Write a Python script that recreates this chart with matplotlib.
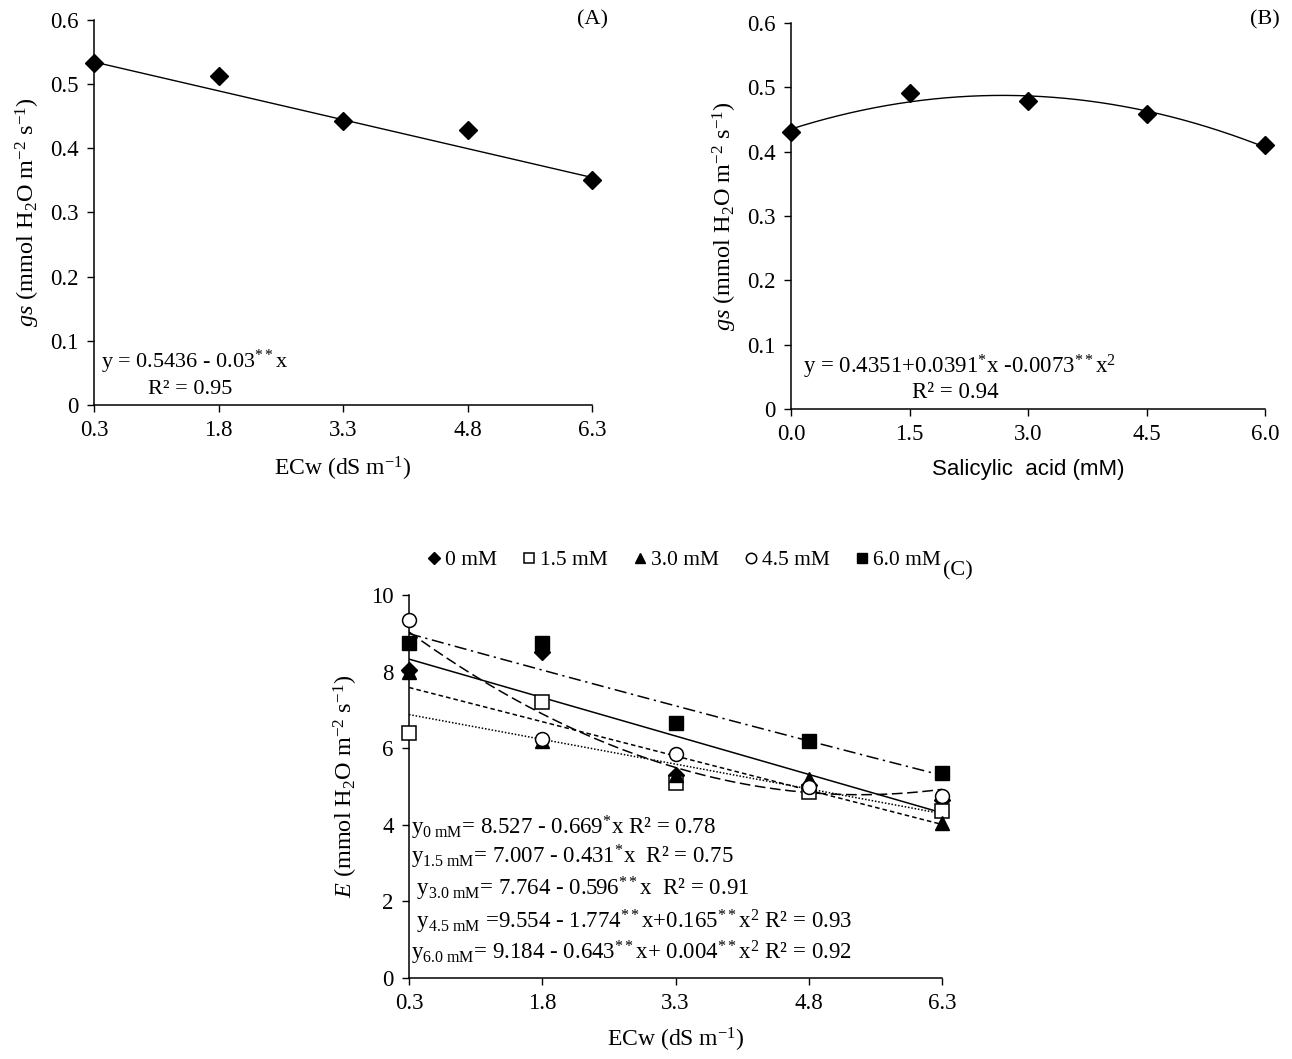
import numpy as np
import matplotlib
matplotlib.use("Agg")
import matplotlib.pyplot as plt
from matplotlib.lines import Line2D

plt.rcParams['font.family'] = ['Liberation Serif', 'DejaVu Serif']
plt.rcParams['mathtext.fontset'] = 'custom'
plt.rcParams['mathtext.rm'] = 'Liberation Serif'
plt.rcParams['mathtext.it'] = 'Liberation Serif:italic'
plt.rcParams['mathtext.bf'] = 'Liberation Serif:bold'

# ---------------- data ----------------
ecw = [0.3, 1.8, 3.3, 4.8, 6.3]
ecw_ticks = ["0.3", "1.8", "3.3", "4.8", "6.3"]

gs_ecw = [0.533, 0.513, 0.442, 0.428, 0.351]
coef_a = [0.5436, -0.03]                 # linear fit panel A

sa = [0.0, 1.5, 3.0, 4.5, 6.0]
sa_ticks = ["0.0", "1.5", "3.0", "4.5", "6.0"]
gs_sa = [0.431, 0.491, 0.479, 0.459, 0.411]
coef_b = [0.4351, 0.0391, -0.0073]        # quadratic fit panel B

series_c = ["0 mM", "1.5 mM", "3.0 mM", "4.5 mM", "6.0 mM"]
e_0 = [8.05, 8.50, 5.30, 5.05, 4.65]
e_15 = [6.40, 7.20, 5.10, 4.85, 4.35]
e_30 = [8.00, 6.20, 5.30, 5.20, 4.05]
e_45 = [9.35, 6.25, 5.85, 5.00, 4.75]
e_60 = [8.75, 8.75, 6.65, 6.20, 5.35]
coef_c = [[8.527, -0.669, 0.0],
          [7.007, -0.431, 0.0],
          [7.764, -0.596, 0.0],
          [9.554, -1.774, 0.165],
          [9.184, -0.643, 0.004]]

W, H = 1292, 1059
fig = plt.figure(figsize=(W / 100, H / 100), dpi=100)


def fx(px):
    return px / W


def fy(py):
    return 1 - py / H


def style(ax):
    for s in ['top', 'right']:
        ax.spines[s].set_visible(False)
    for s in ['left', 'bottom']:
        ax.spines[s].set_linewidth(1.1)
    ax.tick_params(direction='out', length=5, width=1.0, labelsize=16.5, pad=6)


def poly(c, x):
    return sum(ci * x ** i for i, ci in enumerate(c))


# ---------------- panel A ----------------
axA = fig.add_axes([fx(94), fy(405), fx(592) - fx(94), fy(20) - fy(405)])
style(axA)
xx = np.linspace(ecw[0], ecw[-1], 200)
axA.plot(xx, poly(coef_a, xx), color='black', lw=1.0)
axA.plot(ecw, gs_ecw, 'D', color='black', ms=9.5, clip_on=False, zorder=5)
axA.set_xlim(0.3, 6.3)
axA.set_ylim(0, 0.6)
axA.set_xticks(ecw)
axA.set_xticklabels(ecw_ticks)
axA.set_yticks([0, 0.1, 0.2, 0.3, 0.4, 0.5, 0.6])
axA.set_yticklabels(["0", "0.1", "0.2", "0.3", "0.4", "0.5", "0.6"])
axA.set_xlabel(r"ECw (dS m$^{-1}$)", fontsize=17, labelpad=10)
axA.set_ylabel(r"$\it{gs}$ (mmol H$_2$O m$^{-2}$ s$^{-1}$)", fontsize=17.5, labelpad=6)
fig.text(fx(101), fy(362), r"y = 0.5436 - 0.03$^{**}$x", fontsize=16, ha='left', va='center')
fig.text(fx(148), fy(389), "R² = 0.95", fontsize=16, ha='left', va='center')
fig.text(fx(593), fy(20), "(A)", fontsize=16, ha='center', va='center')

# ---------------- panel B ----------------
axB = fig.add_axes([fx(791), fy(409), fx(1265) - fx(791), fy(23) - fy(409)])
style(axB)
xx = np.linspace(sa[0], sa[-1], 200)
axB.plot(xx, poly(coef_b, xx), color='black', lw=1.0)
axB.plot(sa, gs_sa, 'D', color='black', ms=9.5, clip_on=False, zorder=5)
axB.set_xlim(0, 6)
axB.set_ylim(0, 0.6)
axB.set_xticks(sa)
axB.set_xticklabels(sa_ticks)
axB.set_yticks([0, 0.1, 0.2, 0.3, 0.4, 0.5, 0.6])
axB.set_yticklabels(["0", "0.1", "0.2", "0.3", "0.4", "0.5", "0.6"])
axB.set_xlabel("Salicylic  acid (mM)", fontsize=16, labelpad=10,
               family=['Liberation Sans Narrow', 'Liberation Sans', 'DejaVu Sans'])
axB.set_ylabel(r"$\it{gs}$ (mmol H$_2$O m$^{-2}$ s$^{-1}$)", fontsize=17.5, labelpad=6)
fig.text(fx(803), fy(367), r"y = 0.4351+0.0391$^{*}$x -0.0073$^{**}$x$^{2}$", fontsize=16.5,
         ha='left', va='center')
fig.text(fx(912), fy(393), "R² = 0.94", fontsize=16.5, ha='left', va='center')
fig.text(fx(1265), fy(20), "(B)", fontsize=16, ha='center', va='center')

# ---------------- panel C ----------------
axC = fig.add_axes([fx(409), fy(978), fx(942) - fx(409), fy(595) - fy(978)])
style(axC)
xx = np.linspace(ecw[0], ecw[-1], 200)
line_styles = ['-', (0, (1, 1.2)), (0, (3, 2)), (0, (7, 3)), (0, (8, 3, 1.5, 3))]
for c, ls in zip(coef_c, line_styles):
    axC.plot(xx, poly(c, xx), color='black', lw=1.1, ls=ls)

markers = [dict(marker='D', mfc='black', mec='black', ms=8),
           dict(marker='s', mfc='white', mec='black', ms=10, mew=1.1),
           dict(marker='^', mfc='black', mec='black', ms=10),
           dict(marker='o', mfc='white', mec='black', ms=10, mew=1.1),
           dict(marker='s', mfc='black', mec='black', ms=10)]
for vals, mk in zip([e_0, e_15, e_30, e_45, e_60], markers):
    axC.plot(ecw, vals, ls='none', clip_on=False, zorder=5, **mk)

axC.set_xlim(0.3, 6.3)
axC.set_ylim(0, 10)
axC.set_xticks(ecw)
axC.set_xticklabels(ecw_ticks)
axC.set_yticks([0, 2, 4, 6, 8, 10])
axC.set_xlabel(r"ECw (dS m$^{-1}$)", fontsize=17, labelpad=8)
axC.set_ylabel(r"$\it{E}$ (mmol H$_2$O m$^{-2}$ s$^{-1}$)", fontsize=17.5, labelpad=8)

eq_lines = [
    (828, r"y$_{0\ \mathrm{mM}}$= 8.527 - 0.669$^{*}$x R² = 0.78"),
    (857, r"y$_{1.5\ \mathrm{mM}}$= 7.007 - 0.431$^{*}$x  R² = 0.75"),
    (889, r" y$_{3.0\ \mathrm{mM}}$= 7.764 - 0.596$^{**}$x  R² = 0.91"),
    (922, r" y$_{4.5\ \mathrm{mM}}$ =9.554 - 1.774$^{**}$x+0.165$^{**}$x$^{2}$ R² = 0.93"),
    (953, r"y$_{6.0\ \mathrm{mM}}$= 9.184 - 0.643$^{**}$x+ 0.004$^{**}$x$^{2}$ R² = 0.92"),
]
for py, txt in eq_lines:
    fig.text(fx(411), fy(py), txt, fontsize=16.5, ha='left', va='center')

handles = [Line2D([], [], ls='none', **dict(mk, ms=mk['ms'] * 0.75)) for mk in markers]
fig.legend(handles, series_c, loc='center', bbox_to_anchor=(fx(684), fy(560)), ncol=5,
           frameon=False, fontsize=15.5, handlelength=0.6, handletextpad=0.2,
           columnspacing=1.2, borderaxespad=0)
fig.text(fx(958), fy(571), "(C)", fontsize=16, ha='center', va='center')

fig.savefig("out.png", dpi=100)
